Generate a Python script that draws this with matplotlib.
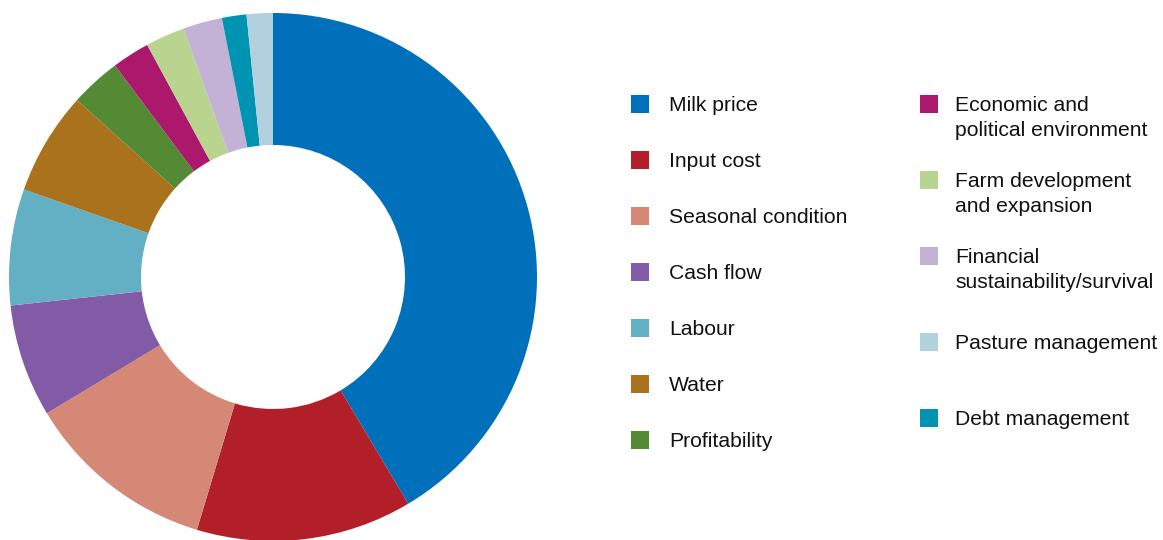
import matplotlib.pyplot as plt
from matplotlib.patches import Rectangle

plt.rcParams['font.family'] = ['Liberation Sans', 'DejaVu Sans']

# slices in drawing order (clockwise from 12 o'clock), share of responses in %
slice_labels = ["Milk price", "Input cost", "Seasonal condition", "Cash flow", "Labour",
                "Water", "Profitability", "Economic and\npolitical environment",
                "Farm development\nand expansion", "Financial\nsustainability/survival",
                "Debt management", "Pasture management"]
slice_values = [41.4, 13.2, 11.7, 6.9, 7.1, 6.3, 3.1, 2.3, 2.4, 2.4, 1.5, 1.6]
slice_colors = ["#0070ba", "#b31f29", "#d68876", "#825aa5", "#63afc4", "#ab721d",
                "#558a34", "#ab186c", "#b8d48e", "#c3b1d6", "#0093b2", "#b1d1de"]

# legend order as printed
legend_left = ["Milk price", "Input cost", "Seasonal condition", "Cash flow",
               "Labour", "Water", "Profitability"]
legend_right = ["Economic and\npolitical environment", "Farm development\nand expansion",
                "Financial\nsustainability/survival", "Pasture management", "Debt management"]

W, H = 1163, 540
fig = plt.figure(figsize=(W / 100, H / 100), dpi=100)

# donut: centre (273, 277) px, outer radius 264 px
cx, cy, r = 273, 277, 264
ax = fig.add_axes([(cx - r) / W, (H - cy - r) / H, 2 * r / W, 2 * r / H])
ax.pie(slice_values, colors=slice_colors, startangle=90, counterclock=False,
       radius=1, wedgeprops=dict(width=0.5, edgecolor="none", linewidth=0))
ax.set_xlim(-1, 1)
ax.set_ylim(-1, 1)
ax.set_aspect("equal")
ax.axis("off")

# legend drawn in pixel coords on an overlay axes
lax = fig.add_axes([0, 0, 1, 1])
lax.set_xlim(0, W)
lax.set_ylim(H, 0)
lax.axis("off")

color_of = dict(zip(slice_labels, slice_colors))
columns = [(legend_left, 631, 669, [104, 160, 216, 272, 328, 384, 440]),
           (legend_right, 920, 955, [104, 180, 256, 342, 418])]
sq = 18
for labels, mx, tx, ys in columns:
    for lab, yc in zip(labels, ys):
        lax.add_patch(Rectangle((mx, yc - sq / 2), sq, sq, color=color_of[lab], lw=0))
        for i, line in enumerate(lab.split("\n")):
            lax.text(tx, yc + 7 + i * 24.5, line, fontsize=15.2, color="#111111",
                     va="baseline", ha="left")

fig.savefig("out.png", dpi=100)
